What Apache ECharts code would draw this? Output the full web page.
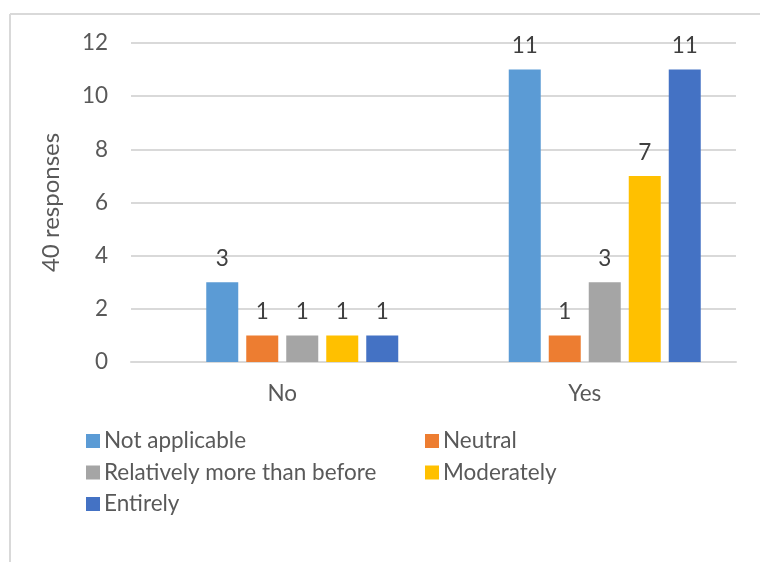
<!DOCTYPE html>
<html>
<head>
<meta charset="utf-8">
<script src="https://cdn.jsdelivr.net/npm/echarts@6/dist/echarts.min.js"></script>
<style>
  html, body { margin: 0; padding: 0; background: #fff; }
  #chart { width: 760px; height: 562px; }
</style>
</head>
<body>
<div id="chart"></div>
<script>
// Responses by answer group
const categories = ['No', 'Yes'];
const seriesNames = ['Not applicable', 'Neutral', 'Relatively more than before', 'Moderately', 'Entirely'];
const notApplicable = [3, 11];
const neutral = [1, 1];
const relativelyMore = [1, 3];
const moderately = [1, 7];
const entirely = [1, 11];
const yTicks = [0, 2, 4, 6, 8, 10, 12];
const axisTitle = '40 responses';

const values = [notApplicable, neutral, relativelyMore, moderately, entirely];
const colors = ['#5B9BD5', '#ED7D31', '#A5A5A5', '#FFC000', '#4472C4'];
const FONT = 'Lato';

const chart = echarts.init(document.getElementById('chart'), null, { renderer: 'canvas' });

const barSeries = seriesNames.map((name, i) => ({
  name: name,
  type: 'bar',
  data: values[i],
  barWidth: 32,
  barGap: '25%',
  itemStyle: { color: colors[i] },
  label: {
    show: true,
    position: 'top',
    distance: 12,
    color: '#404040',
    fontFamily: FONT,
    fontSize: 22.5
  }
}));

// An empty leading slot keeps each group's bars where the plot places them
const emptySlot = {
  name: 'empty',
  type: 'bar',
  data: categories.map(() => null),
  barWidth: 32,
  barGap: '25%',
  silent: true
};

const legendText = { color: '#595959', fontFamily: FONT, fontSize: 22.5, lineHeight: 24, padding: [0, 0, 0, -1] };

chart.setOption({
  animation: false,
  backgroundColor: '#ffffff',
  grid: { left: 131, right: 24, top: 43, bottom: 200 },
  graphic: [
    { type: 'line', shape: { x1: 10, y1: 14, x2: 760, y2: 14 }, style: { stroke: '#D9D9D9', lineWidth: 2 } },
    { type: 'line', shape: { x1: 10, y1: 14, x2: 10, y2: 562 }, style: { stroke: '#D9D9D9', lineWidth: 2 } }
  ],
  legend: [
    {
      data: [seriesNames[0], seriesNames[2], seriesNames[4]],
      orient: 'vertical',
      left: 81, top: 424,
      itemWidth: 14, itemHeight: 14, itemGap: 7.5,
      icon: 'rect',
      textStyle: legendText,
      selectedMode: false
    },
    {
      data: [seriesNames[1], seriesNames[3]],
      orient: 'vertical',
      left: 420, top: 424,
      itemWidth: 14, itemHeight: 14, itemGap: 7.5,
      icon: 'rect',
      textStyle: legendText,
      selectedMode: false
    }
  ],
  xAxis: {
    type: 'category',
    data: categories,
    axisTick: { show: false },
    axisLine: { lineStyle: { color: '#D9D9D9', width: 2 } },
    axisLabel: { color: '#595959', fontFamily: FONT, fontSize: 22.5, margin: 20 }
  },
  yAxis: {
    type: 'value',
    min: yTicks[0],
    max: yTicks[yTicks.length - 1],
    interval: yTicks[1] - yTicks[0],
    name: axisTitle,
    nameLocation: 'middle',
    nameGap: 68,
    nameRotate: 90,
    nameTextStyle: { color: '#595959', fontFamily: FONT, fontSize: 24 },
    axisLine: { show: false },
    axisTick: { show: false },
    axisLabel: { color: '#595959', fontFamily: FONT, fontSize: 22.5, margin: 23 },
    splitLine: { lineStyle: { color: '#D9D9D9', width: 2 } }
  },
  series: [emptySlot].concat(barSeries)
});
</script>
</body>
</html>
